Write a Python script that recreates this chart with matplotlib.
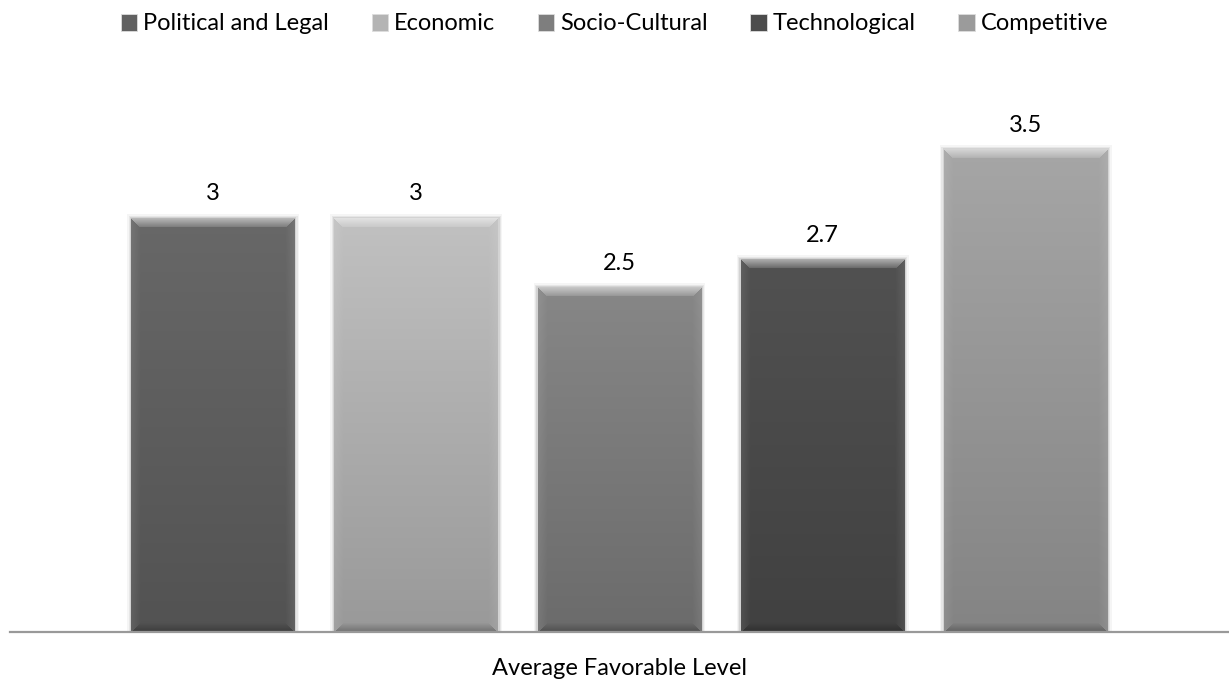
import numpy as np
import matplotlib.pyplot as plt
from matplotlib.patches import Rectangle
from matplotlib.colors import to_rgb

plt.rcParams['font.family'] = ['Lato', 'DejaVu Sans']

category = 'Average Favorable Level'
series = ['Political and Legal', 'Economic', 'Socio-Cultural', 'Technological', 'Competitive']
values = [3, 3, 2.5, 2.7, 3.5]
colors = ['#616161', '#b4b4b4', '#7e7e7e', '#4c4c4c', '#9b9b9b']

W, H, DPI = 1229, 680, 100
fig = plt.figure(figsize=(W / DPI, H / DPI), dpi=DPI)
ax = fig.add_axes([10 / W, 48 / H, 1219 / W, 552 / H])
ax.set_xlim(-1, 5)
ax.set_ylim(0, 4)

bw = 0.807
px_x = 1219 / 6.0     # pixels per x unit
px_y = 552 / 4.0      # pixels per y unit


def bevel_image(color, w_px, h_px, b=9):
    # shaded bar: vertical gradient plus bevelled edges
    c = np.array(to_rgb(color))
    yy, xx = np.mgrid[0:h_px, 0:w_px].astype(float)
    t = yy / max(h_px - 1, 1)
    shade = 1.07 - 0.22 * t
    img = c[None, None, :] * shade[..., None]
    dt = yy
    db = h_px - 1 - yy
    dl = xx
    dr = w_px - 1 - xx
    d = np.minimum(np.minimum(dt, db), np.minimum(dl, dr))
    inb = d < b
    top = inb & (dt <= np.minimum(dl, dr)) & (dt <= db)
    bot = inb & (db < np.minimum(dl, dr)) & (db < dt)
    side = inb & ~top & ~bot
    k = 1 - d / b
    light = np.clip(img + (1 - img) * (0.12 + 0.40 * k)[..., None], 0, 1)
    img = np.where(top[..., None], light, img)
    side_l = np.clip(img + (1 - img) * (0.08 * k)[..., None], 0, 1)
    img = np.where(side[..., None], side_l, img)
    dark = img * (1 - 0.25 * k)[..., None]
    img = np.where(bot[..., None], dark, img)
    return np.clip(img, 0, 1)


for i, (v, col) in enumerate(zip(values, colors)):
    x0 = i - bw / 2
    # soft shadow around the bar
    for s, a in [(4, 0.04), (2.5, 0.06), (1.2, 0.08)]:
        ax.add_patch(Rectangle((x0 - s / px_x, 0), bw + 2 * s / px_x, v + s / px_y,
                               facecolor='black', alpha=a, edgecolor='none', zorder=1))
    img = bevel_image(col, int(bw * px_x), int(v * px_y))
    ax.imshow(img, extent=(x0, x0 + bw, 0, v), aspect='auto', zorder=2,
              interpolation='bilinear')
    ax.text(i, v + 24 / px_y, f'{v:g}', ha='center', va='center', fontsize=17,
            color='black', zorder=3)

ax.set_xlim(-1, 5)
ax.set_ylim(0, 4)
for sp in ['top', 'right', 'left']:
    ax.spines[sp].set_visible(False)
ax.spines['bottom'].set_color('#999999')
ax.spines['bottom'].set_linewidth(1.6)
ax.spines['bottom'].set_zorder(4)
ax.set_yticks([])
ax.set_xticks([2])
ax.set_xticklabels([category], fontsize=17)
ax.tick_params(axis='x', length=0, pad=19)

handles = [Rectangle((0, 0), 1, 1, facecolor=c, edgecolor='#dddddd', linewidth=0.6)
           for c in colors]
fig.legend(handles, series, loc='center', bbox_to_anchor=(0.5, 1 - 24 / H), ncol=5,
           frameon=False, fontsize=17, handlelength=0.7, handleheight=0.7,
           handletextpad=0.25, columnspacing=1.8)

fig.savefig('out.png', dpi=DPI)
